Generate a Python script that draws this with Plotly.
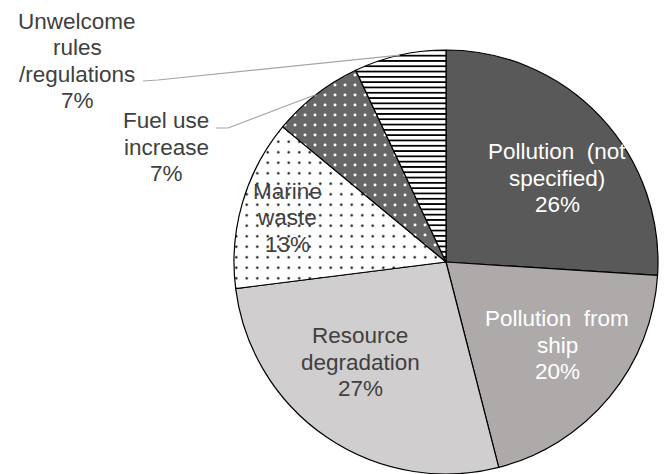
import math
import plotly.graph_objects as go

# Survey responses: perceived negative impacts
categories = [
    "Pollution (not specified)",
    "Pollution from ship",
    "Resource degradation",
    "Marine waste",
    "Fuel use increase",
    "Unwelcome rules/regulations",
]
label_lines = [
    ["Pollution  (not", "specified)"],
    ["Pollution  from", "ship"],
    ["Resource", "degradation"],
    ["Marine", "waste"],
    ["Fuel use", "increase"],
    ["Unwelcome", "rules", "/regulations"],
]
percentages = [26, 20, 27, 13, 7, 7]

# Slice styling
fill_colors = ["#595959", "#aeaaaa", "#d0cece", "#ffffff", "#676767", "#ffffff"]
pattern_shapes = ["", "", "", ".", ".", "-"]
pattern_fg = ["#000000", "#000000", "#000000", "#000000", "#ffffff", "#000000"]
pattern_size = [8, 8, 8, 10.5, 10, 5.3]
pattern_solidity = [0.3, 0.3, 0.3, 0.04, 0.07, 0.33]
text_colors = ["#ffffff", "#ffffff", "#404040", "#404040", "#404040", "#404040"]

W, H = 672, 474
CX, CY, R = 446, 262, 212  # pie centre and radius in pixels
FONT_SIZE = 22.5
LINE_GAP = 26.5

# Label block centres (pixels) and leader-line start points for outside labels
label_pos = [(557, 178), (557, 345), (360, 362), (287, 218), (166, 147), (77, 61)]
leader_start = {4: [(216, 128), (228, 128)], 5: [(143, 81), (158, 80)]}


def px(x):
    return x / W


def py(y):
    return 1 - y / H


fig = go.Figure(
    go.Pie(
        labels=categories,
        values=percentages,
        sort=False,
        direction="clockwise",
        rotation=0,
        textinfo="none",
        hoverinfo="label+percent",
        domain=dict(x=[px(CX - R), px(CX + R)], y=[py(CY + R), py(CY - R)]),
        marker=dict(
            colors=fill_colors,
            line=dict(color="#000000", width=1.2),
            pattern=dict(
                shape=pattern_shapes,
                fgcolor=pattern_fg,
                bgcolor=fill_colors,
                size=pattern_size,
                solidity=pattern_solidity,
                fillmode="replace",
            ),
        ),
    )
)

total = sum(percentages)
cum = 0
shapes = []
annotations = []
for i, v in enumerate(percentages):
    mid = (cum + v / 2) / total * 2 * math.pi
    cum += v
    lines = label_lines[i] + [f"{round(v / total * 100)}%"]
    lx, ly = label_pos[i]
    n = len(lines)
    for k, line in enumerate(lines):
        annotations.append(
            dict(
                x=px(lx), y=py(ly + (k - (n - 1) / 2) * LINE_GAP),
                xref="paper", yref="paper",
                text=line, showarrow=False, align="center",
                xanchor="center", yanchor="middle",
                font=dict(family="Liberation Sans, Arial, sans-serif",
                          size=FONT_SIZE, color=text_colors[i]),
            )
        )
    if i in leader_start:
        ex = CX + R * math.sin(mid)
        ey = CY - R * math.cos(mid)
        pts = leader_start[i] + [(ex, ey)]
        path = "M " + " L ".join(f"{px(a):.5f},{py(b):.5f}" for a, b in pts)
        shapes.append(
            dict(type="path", path=path, xref="paper", yref="paper",
                 line=dict(color="#a6a6a6", width=1.2))
        )

fig.update_layout(
    width=W,
    height=H,
    margin=dict(l=0, r=0, t=0, b=0),
    paper_bgcolor="#ffffff",
    plot_bgcolor="#ffffff",
    showlegend=False,
    shapes=shapes,
    annotations=annotations,
)

fig.write_html("out.html")
